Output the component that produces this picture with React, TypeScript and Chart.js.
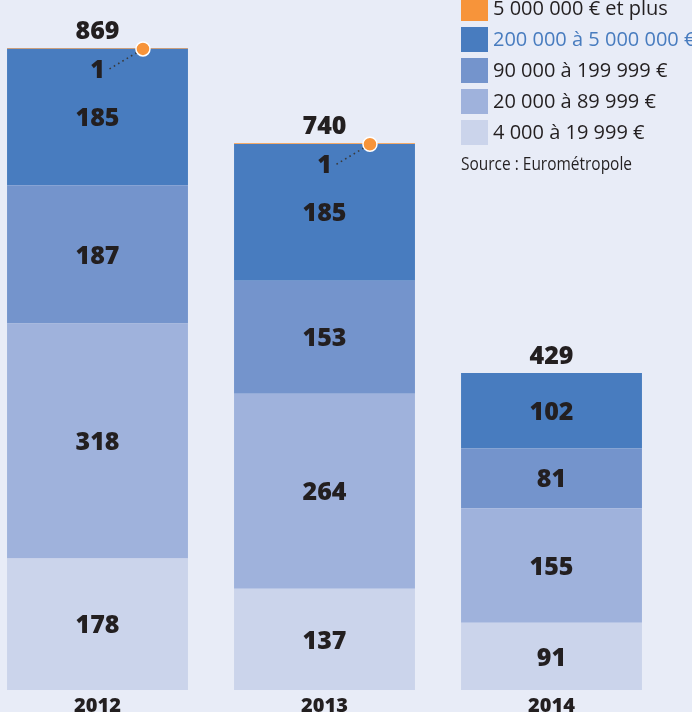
import React, { useEffect, useRef } from "react";
import { Chart, registerables } from "chart.js";

Chart.register(...registerables);

const years = ["2012", "2013", "2014"];
const band4k = [178, 137, 91];
const band20k = [318, 264, 155];
const band90k = [187, 153, 81];
const band200k = [185, 185, 102];
const band5m = [1, 1, 0];
const bandLabels = [
  "4 000 à 19 999 €",
  "20 000 à 89 999 €",
  "90 000 à 199 999 €",
  "200 000 à 5 000 000 €",
  "5 000 000 € et plus",
];
const sourceText = "Source : Eurométropole";

const BG = "#E8ECF7";
const INK = "#231F20";
const OX = 16; // canvas is shifted left by this many px
const colors = ["#CBD4EB", "#9FB2DC", "#7494CC", "#487CBF", "#F7943A"];

const bgPlugin = {
  id: "bg",
  beforeDraw(chart: any) {
    const { ctx, width, height } = chart;
    ctx.save();
    ctx.fillStyle = BG;
    ctx.fillRect(0, 0, width, height);
    ctx.restore();
  },
};

const valuesPlugin = {
  id: "values",
  afterDatasetsDraw(chart: any) {
    const ctx = chart.ctx;
    const ds = chart.data.datasets;
    const n = ds.length;
    ctx.save();
    ctx.fillStyle = INK;
    ctx.font = "800 25px 'Open Sans'";
    ctx.textAlign = "center";
    ctx.textBaseline = "middle";
    for (let d = 0; d < n - 1; d++) {
      const meta = chart.getDatasetMeta(d);
      meta.data.forEach((el: any, i: number) => {
        const v = ds[d].data[i];
        if (!v) return;
        const p = el.getProps(["x", "y", "base"], true);
        ctx.fillText(String(v), p.x, (p.y + p.base) / 2 + 2);
      });
    }
    // call-outs for the top (tiny) band
    const topMeta = chart.getDatasetMeta(n - 1);
    topMeta.data.forEach((el: any, i: number) => {
      const v = ds[n - 1].data[i];
      if (!v) return;
      const p = el.getProps(["x", "y", "width"], true);
      const lx = p.x;
      const ly = p.y + 22;
      const cx = p.x + p.width / 2 - 45;
      const cy = p.y + 1;
      ctx.save();
      ctx.strokeStyle = "#3a3a3a";
      ctx.lineWidth = 1.6;
      ctx.setLineDash([1.6, 3.4]);
      ctx.beginPath();
      ctx.moveTo(lx + 12, ly - 1);
      ctx.lineTo(cx, cy);
      ctx.stroke();
      ctx.setLineDash([]);
      ctx.beginPath();
      ctx.arc(cx, cy, 7, 0, Math.PI * 2);
      ctx.fillStyle = colors[n - 1];
      ctx.fill();
      ctx.strokeStyle = "#ffffff";
      ctx.lineWidth = 1.5;
      ctx.stroke();
      ctx.restore();
      ctx.fillText(String(v), lx, ly + 1);
    });
    // totals
    chart.data.labels.forEach((_: any, i: number) => {
      let total = 0;
      let topY = Infinity;
      let x = 0;
      for (let d = 0; d < n; d++) {
        const v = ds[d].data[i];
        total += v;
        const el = chart.getDatasetMeta(d).data[i];
        const p = el.getProps(["x", "y"], true);
        x = p.x;
        if (v > 0 && p.y < topY) topY = p.y;
      }
      ctx.fillText(String(total), x, topY - 16);
    });
    ctx.restore();
  },
};

const legendPlugin = {
  id: "customLegend",
  afterDraw(chart: any) {
    const ctx = chart.ctx;
    const ds = chart.data.datasets;
    ctx.save();
    ctx.textBaseline = "middle";
    ctx.textAlign = "left";
    ctx.font = "20px 'Open Sans'";
    const sx = 461 + OX;
    for (let r = 0; r < ds.length; r++) {
      const d = ds[ds.length - 1 - r];
      const top = -4 + 31 * r;
      ctx.fillStyle = d.backgroundColor;
      ctx.fillRect(sx, top, 27, 25);
      ctx.fillStyle = r === 1 ? colors[3] : INK;
      ctx.fillText(d.label, 493 + OX, top + 13.5);
    }
    ctx.fillStyle = INK;
    ctx.font = "19px 'Open Sans'";
    ctx.fillText(sourceText, sx, 165, 171);
    ctx.restore();
  },
};

export default function App() {
  const ref = useRef<HTMLCanvasElement | null>(null);
  useEffect(() => {
    if (!ref.current) return;
    const series = [band4k, band20k, band90k, band200k, band5m];
    const chart = new Chart(ref.current, {
      type: "bar",
      data: {
        labels: years,
        datasets: series.map((data, k) => ({
          label: bandLabels[k],
          data,
          backgroundColor: colors[k],
          borderWidth: 0,
          categoryPercentage: 1,
          barPercentage: 0.797,
        })),
      },
      options: {
        responsive: false,
        animation: false,
        events: [],
        layout: { padding: { top: 25, left: 0, right: 27, bottom: 0 } },
        plugins: {
          legend: { display: false },
          tooltip: { enabled: false },
          title: { display: false },
        },
        scales: {
          x: {
            stacked: true,
            grid: { display: false, drawTicks: false },
            border: { display: false },
            ticks: {
              color: INK,
              font: { family: "'Open Sans'", weight: 800, size: 20 },
              padding: 4,
            },
            afterFit(scale: any) {
              scale.height = 22;
            },
          },
          y: {
            stacked: true,
            display: false,
            min: 0,
            max: 900,
          },
        },
      },
      plugins: [bgPlugin, valuesPlugin, legendPlugin],
    } as any);
    return () => chart.destroy();
  }, []);
  return (
    <div
      style={{
        position: "fixed",
        left: 0,
        top: 0,
        width: 692,
        height: 712,
        overflow: "hidden",
        background: BG,
      }}
    >
      <canvas
        ref={ref}
        width={708}
        height={712}
        style={{ position: "absolute", left: -OX, top: 0, width: 708, height: 712 }}
      />
    </div>
  );
}
